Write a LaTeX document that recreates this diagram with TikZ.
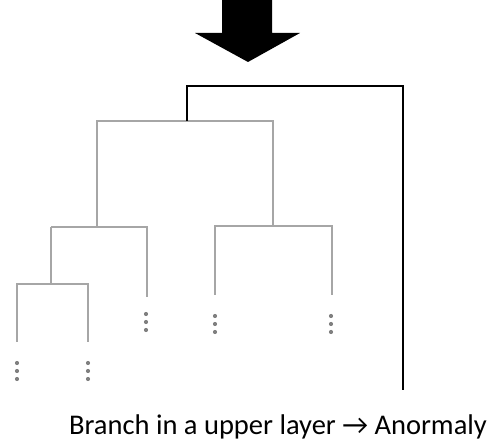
\documentclass[tikz,border=0pt]{standalone}
\usepackage{fontspec}
\setmainfont{Carlito}
\usetikzlibrary{calc}
\begin{document}
\begin{tikzpicture}[x=1pt,y=-1pt,
  branch/.style={draw=black!35,line width=1.7pt},
  upper/.style={draw=black,line width=1.7pt},
  vdots/.style={fill=black!50,circle,inner sep=0pt,minimum size=4.2pt}]
\useasboundingbox (0,0) rectangle (496,443);
% big downward arrow
\fill (222,0) -- (272,0) -- (272,33) -- (300,33) -- (248,62) -- (195,33) -- (222,33) -- cycle;
% dendrogram joints and leaf ends
\coordinate (a) at (97,121);
\coordinate (b) at (273,121);
\coordinate (aL) at (51,227);
\coordinate (aR) at (147,227);
\coordinate (aRend) at (147,297);
\coordinate (bL) at (215,226);
\coordinate (bR) at (332,226);
\coordinate (bLend) at (215,295);
\coordinate (bRend) at (332,295);
\coordinate (cL) at (17,284);
\coordinate (cR) at (88,284);
\coordinate (cLend) at (17,342);
\coordinate (cRend) at (88,342);
% grey branches
\draw[branch] (aL |- aL) -- (aL -| a) |- (b) -- (b |- bL);
\draw[branch] (aL) -- (aR) -- (aRend);
\draw[branch] (aL) -- (aL |- cL);
\draw[branch] (bLend) -- (bL) -- (bR) -- (bRend);
\draw[branch] (cLend) -- (cL) -- (cR) -- (cRend);
% the branch in the upper layer
\coordinate (r) at (187,121);
\coordinate (rt) at (187,86);
\coordinate (top) at (403,390);
\draw[upper] (r) -- (rt) -| (top);
% continuation dots
\foreach \x/\y in {17/363,88/363,146/314,215/316,331/316}{
  \foreach \k in {0,1,2} \node[vdots] at (\x,\y+8*\k) {};
}
\node[anchor=base,inner sep=0pt,font=\fontsize{28.5}{32}\selectfont] (cap) at (278,435) {Branch in a upper layer → Anormaly};
\end{tikzpicture}
\end{document}
